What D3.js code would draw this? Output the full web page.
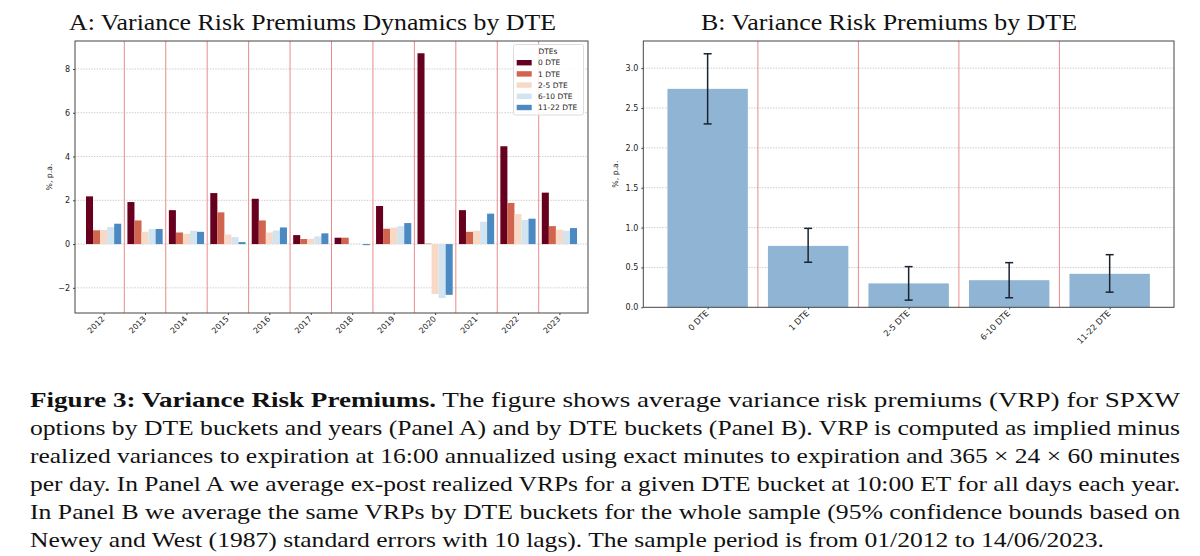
<!DOCTYPE html>
<html><head><meta charset="utf-8">
<script src="https://cdn.jsdelivr.net/npm/d3@7"></script>
<style>
html,body{margin:0;padding:0;background:#fff;}
svg{display:block;}
.tick text{font-family:"DejaVu Sans",sans-serif;fill:#222;}
.serif{font-family:"Liberation Serif","Times New Roman",Times,serif;}
</style></head>
<body>
<svg id="chart" width="1200" height="556"></svg>
<script>
// ---------- data ----------
const years = ["2012","2013","2014","2015","2016","2017","2018","2019","2020","2021","2022","2023"];
const dteBuckets = ["0 DTE","1 DTE","2-5 DTE","6-10 DTE","11-22 DTE"];
const vrp0 = [2.18,1.92,1.55,2.33,2.07,0.41,0.29,1.74,8.72,1.55,4.47,2.35];
const vrp1 = [0.63,1.08,0.53,1.45,1.08,0.23,0.29,0.70,0.02,0.56,1.88,0.82];
const vrp2_5 = [0.64,0.56,0.47,0.44,0.53,0.24,0.01,0.75,-2.28,0.61,1.37,0.66];
const vrp6_10 = [0.78,0.69,0.61,0.32,0.62,0.35,0.01,0.82,-2.47,1.02,1.10,0.61];
const vrp11_22 = [0.93,0.69,0.56,0.09,0.76,0.49,-0.05,0.96,-2.32,1.39,1.16,0.73];
const yTicksA = [-2,0,2,4,6,8];

const avgVrp = [2.74,0.77,0.30,0.34,0.42];
const ciLow  = [2.30,0.565,0.09,0.12,0.19];
const ciHigh = [3.18,0.99,0.51,0.56,0.66];
const yTicksB = [0,0.5,1,1.5,2,2.5,3];

const captionBold = "Figure 3: Variance Risk Premiums.";
const captionLines = [
  " The figure shows average variance risk premiums (VRP) for SPXW",
  "options by DTE buckets and years (Panel A) and by DTE buckets (Panel B). VRP is computed as implied minus",
  "realized variances to expiration at 16:00 annualized using exact minutes to expiration and 365 \u00d7 24 \u00d7 60 minutes",
  "per day. In Panel A we average ex-post realized VRPs for a given DTE bucket at 10:00 ET for all days each year.",
  "In Panel B we average the same VRPs by DTE buckets for the whole sample (95% confidence bounds based on",
  "Newey and West (1987) standard errors with 10 lags). The sample period is from 01/2012 to 14/06/2023."
];

// ---------- styles ----------
const seriesA = [vrp0, vrp1, vrp2_5, vrp6_10, vrp11_22];
const colorsA = ["#67001f","#d1644f","#f8d9c6","#d3e4f1","#4b89c2"];
const sepColor = "#ec8a8a";
const gridColor = "#cfcfcf";
const frameColor = "#444";

const svg = d3.select("#chart");
svg.append("rect").attr("width",1200).attr("height",556).attr("fill","#fff");

// ---------- Panel A ----------
const A = {l:75, r:588, t:41, b:313};
const xA = d3.scaleLinear().domain([-0.69, 11.69]).range([A.l, A.r]);
const yA = d3.scaleLinear().domain([-3.15, 9.28]).range([A.b, A.t]);
const groupW = 0.85, barW = groupW / 5;

const gA = svg.append("g");
gA.selectAll("line.grid").data(yTicksA).join("line")
  .attr("x1",A.l).attr("x2",A.r).attr("y1",d=>yA(d)).attr("y2",d=>yA(d))
  .attr("stroke",gridColor).attr("stroke-width",1).attr("stroke-dasharray","1.5,1.2");
gA.selectAll("line.sep").data(years.slice(0,-1)).join("line")
  .attr("x1",(d,i)=>xA(i+0.5)).attr("x2",(d,i)=>xA(i+0.5))
  .attr("y1",A.t).attr("y2",A.b).attr("stroke",sepColor).attr("stroke-width",1);
seriesA.forEach((vals, s) => {
  gA.append("g").selectAll("rect").data(vals).join("rect")
    .attr("x",(d,i)=>xA(i - groupW/2 + s*barW))
    .attr("width", xA(barW) - xA(0))
    .attr("y", d=>yA(Math.max(0,d)))
    .attr("height", d=>Math.abs(yA(d)-yA(0)))
    .attr("fill", colorsA[s]);
});
const axYA = d3.axisLeft(yA).tickValues(yTicksA).tickSize(2).tickPadding(3).tickFormat(d3.format("d"));
gA.append("g").attr("transform",`translate(${A.l},0)`).call(axYA)
  .call(g=>g.select(".domain").remove())
  .call(g=>g.selectAll("line").attr("stroke","#444"))
  .call(g=>g.selectAll("text").attr("font-size",8));
const axXA = d3.axisBottom(xA).tickValues(d3.range(years.length)).tickSize(2).tickFormat(i=>years[i]);
gA.append("g").attr("transform",`translate(0,${A.b})`).call(axXA)
  .call(g=>g.select(".domain").remove())
  .call(g=>g.selectAll("line").attr("stroke","#444"))
  .call(g=>g.selectAll("text").attr("font-size",8).attr("text-anchor","end")
      .attr("dy",null).attr("y",null).attr("transform","translate(1,6.5) rotate(-45)"));
gA.append("rect").attr("x",A.l).attr("y",A.t).attr("width",A.r-A.l).attr("height",A.b-A.t)
  .attr("fill","none").attr("stroke",frameColor).attr("stroke-width",1);
gA.append("text").attr("transform",`translate(52,${(A.t+A.b)/2}) rotate(-90)`)
  .attr("text-anchor","middle").attr("font-family","DejaVu Sans, sans-serif").attr("font-size",7.8)
  .attr("fill","#222").text("%, p.a.");
const lg = gA.append("g");
lg.append("rect").attr("x",513.5).attr("y",44.5).attr("width",70).attr("height",70.5)
  .attr("fill","#fff").attr("fill-opacity",0.85).attr("stroke","#ddd").attr("stroke-width",1).attr("rx",2);
lg.append("text").attr("x",548).attr("y",54.3).attr("text-anchor","middle")
  .attr("font-family","DejaVu Sans, sans-serif").attr("font-size",7.5).attr("fill","#222").text("DTEs");
dteBuckets.forEach((name,i)=>{
  const cy = 62.7 + i*11.2;
  lg.append("rect").attr("x",516.7).attr("y",cy-2.7).attr("width",15).attr("height",5.4).attr("fill",colorsA[i]);
  lg.append("text").attr("x",538).attr("y",cy+2.7).attr("font-family","DejaVu Sans, sans-serif")
    .attr("font-size",7.5).attr("fill","#222").text(name);
});
svg.append("text").attr("class","serif").attr("x",312.5).attr("y",30).attr("text-anchor","middle")
  .attr("font-size",24).attr("fill","#111")
  .attr("textLength",487).attr("lengthAdjust","spacingAndGlyphs")
  .text("A: Variance Risk Premiums Dynamics by DTE");

// ---------- Panel B ----------
const B = {l:643.3, r:1174, t:41, b:307.3};
const xB = d3.scaleLinear().domain([-0.64, 4.64]).range([B.l, B.r]);
const yB = d3.scaleLinear().domain([0, 3.34]).range([B.b, B.t]);
const gB = svg.append("g");
gB.selectAll("line.grid").data(yTicksB.slice(1)).join("line")
  .attr("x1",B.l).attr("x2",B.r).attr("y1",d=>yB(d)).attr("y2",d=>yB(d))
  .attr("stroke",gridColor).attr("stroke-width",1).attr("stroke-dasharray","1.5,1.2");
gB.selectAll("line.sep").data(dteBuckets.slice(0,-1)).join("line")
  .attr("x1",(d,i)=>xB(i+0.5)).attr("x2",(d,i)=>xB(i+0.5))
  .attr("y1",B.t).attr("y2",B.b).attr("stroke",sepColor).attr("stroke-width",1);
gB.selectAll("rect.bar").data(avgVrp).join("rect")
  .attr("x",(d,i)=>xB(i-0.4)).attr("width",xB(0.8)-xB(0))
  .attr("y",d=>yB(d)).attr("height",d=>yB(0)-yB(d)).attr("fill","#90b4d4");
const eb = gB.append("g").attr("stroke","#1b2330").attr("stroke-width",1.5);
avgVrp.forEach((v,i)=>{
  const cx = xB(i);
  eb.append("line").attr("x1",cx).attr("x2",cx).attr("y1",yB(ciLow[i])).attr("y2",yB(ciHigh[i]));
  eb.append("line").attr("x1",cx-4).attr("x2",cx+4).attr("y1",yB(ciLow[i])).attr("y2",yB(ciLow[i]));
  eb.append("line").attr("x1",cx-4).attr("x2",cx+4).attr("y1",yB(ciHigh[i])).attr("y2",yB(ciHigh[i]));
});
const axYB = d3.axisLeft(yB).tickValues(yTicksB).tickSize(2).tickPadding(3).tickFormat(d3.format(".1f"));
gB.append("g").attr("transform",`translate(${B.l},0)`).call(axYB)
  .call(g=>g.select(".domain").remove())
  .call(g=>g.selectAll("line").attr("stroke","#444"))
  .call(g=>g.selectAll("text").attr("font-size",8));
const axXB = d3.axisBottom(xB).tickValues(d3.range(dteBuckets.length)).tickSize(2).tickFormat(i=>dteBuckets[i]);
gB.append("g").attr("transform",`translate(0,${B.b})`).call(axXB)
  .call(g=>g.select(".domain").remove())
  .call(g=>g.selectAll("line").attr("stroke","#444"))
  .call(g=>g.selectAll("text").attr("font-size",8.3).attr("text-anchor","end")
      .attr("dy",null).attr("y",null).attr("transform","translate(1,6.5) rotate(-45)"));
gB.append("rect").attr("x",B.l).attr("y",B.t).attr("width",B.r-B.l).attr("height",B.b-B.t)
  .attr("fill","none").attr("stroke",frameColor).attr("stroke-width",1);
gB.append("text").attr("transform",`translate(618,${(B.t+B.b)/2}) rotate(-90)`)
  .attr("text-anchor","middle").attr("font-family","DejaVu Sans, sans-serif").attr("font-size",7.8)
  .attr("fill","#222").text("%, p.a.");
svg.append("text").attr("class","serif").attr("x",889).attr("y",30).attr("text-anchor","middle")
  .attr("font-size",24).attr("fill","#111")
  .attr("textLength",376).attr("lengthAdjust","spacingAndGlyphs")
  .text("B: Variance Risk Premiums by DTE");

// ---------- caption ----------
const cap = svg.append("g").attr("class","serif").attr("font-size",21).attr("fill","#111");
const lineEnds = [1180,1180,1180,1180,1180,1104];
captionLines.forEach((line,i)=>{
  const t = cap.append("text").attr("x",30).attr("y",406.7 + i*28)
    .attr("textLength",lineEnds[i]-30).attr("lengthAdjust","spacingAndGlyphs");
  if(i===0){
    t.append("tspan").attr("font-weight","bold").text(captionBold);
    t.append("tspan").text(line);
  } else t.text(line);
});
</script>
</body></html>
